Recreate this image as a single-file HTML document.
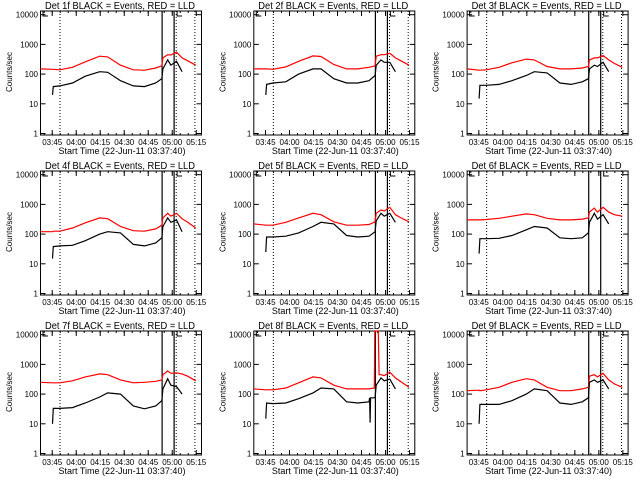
<!DOCTYPE html>
<html><head><meta charset="utf-8"><style>
html,body{margin:0;padding:0;background:#fff;}
svg{display:block;font-family:"Liberation Sans",sans-serif;}
</style></head><body>
<svg id="chart" width="640" height="480" viewBox="0 0 640 480" xmlns="http://www.w3.org/2000/svg"></svg>
<script>
// time in minutes since 03:37:40
const times = [0, 7.5, 8, 12, 20, 28, 37, 42, 50, 58, 65, 72, 75.8, 76.5, 79.5, 81.5, 85, 88.5, 92, 97];
const red1 = [150,145,145,140,170,260,400,380,200,140,135,160,190,350,450,440,550,350,280,200];
const black1 = [null,20,38,40,50,85,120,115,60,40,38,50,70,150,300,200,270,120,null,null];
const red2 = [150,150,150,145,175,270,410,390,210,150,150,170,190,400,450,450,500,350,280,200];
const black2 = [null,20,45,50,55,100,150,150,70,50,50,60,90,200,300,250,250,120,null,null];
const red3 = [150,135,135,140,170,240,320,300,180,150,150,160,180,300,350,350,420,300,230,170];
const black3 = [null,15,42,42,45,60,90,120,110,50,45,55,70,150,200,180,250,120,null,null];
const red4 = [120,120,125,125,160,240,350,330,180,130,125,150,200,350,500,400,500,330,250,160];
const black4 = [null,15,38,40,42,60,100,120,110,45,40,50,75,180,350,250,300,120,null,null];
const red5 = [220,200,200,200,250,350,500,450,260,200,200,210,260,500,650,600,800,450,350,260];
const black5 = [null,25,80,80,85,110,180,250,220,90,80,85,120,280,500,400,500,250,null,null];
const red6 = [300,300,300,310,340,400,480,450,340,300,300,320,350,550,750,550,800,550,450,400];
const black6 = [null,22,70,70,72,90,140,180,160,75,70,75,110,250,500,320,450,220,null,null];
const red7 = [250,240,240,240,280,380,480,450,300,240,250,270,300,450,600,500,520,480,400,280];
const black7 = [null,10,33,33,35,50,80,110,100,40,32,40,60,150,330,200,180,100,null,null];
const red8 = [150,140,140,140,160,240,380,350,200,150,150,150,160,450,450,420,550,350,260,170];
const black8 = [null,15,50,48,50,70,110,160,150,55,50,55,75,200,350,280,320,150,null,null];
const red9 = [130,135,130,140,170,250,330,300,170,130,130,150,170,400,450,380,500,300,220,170];
const black9 = [null,10,45,45,45,60,100,150,130,50,45,55,75,250,300,250,300,150,null,null];
// panel 8 extra features
const spikeTimes8 = [75.3, 75.6, 77.8, 78.3];
const spikeRed8 = [160, 30000, 30000, 450];
const dipTimes8 = [72.4, 72.7, 73.0];
const dipBlack8 = [75, 11, 75];

const panelLabels = ["1f","2f","3f","4f","5f","6f","7f","8f","9f"];
const reds = [red1,red2,red3,red4,red5,red6,red7,red8,red9];
const blacks = [black1,black2,black3,black4,black5,black6,black7,black8,black9];
const yTickValues = [1,10,100,1000,10000];
const yTickLabels = ["1","10","100","1000","10000"];
const xTickMinutes = [7.333, 22.333, 37.333, 52.333, 67.333, 82.333, 97.333];
const xTickLabels = ["03:45","04:00","04:15","04:30","04:45","05:00","05:15"];
const dottedTimes = [12.2, 84.8, 96.5];
const solidTimes = [76, 83.5];

const NS = "http://www.w3.org/2000/svg";
const svg = document.getElementById("chart");
const L = 40.5, R = 201.5, T = 11, B = 135;
function xs(t){ return L + 1.6 * t; }
function ys(v){ return 133.5 - 29.7 * Math.log10(v); }
function mk(tag, attrs, parent){
  const e = document.createElementNS(NS, tag);
  for (const k in attrs) e.setAttribute(k, attrs[k]);
  parent.appendChild(e); return e;
}
function linePath(ts, vs){
  let d = "", pen = false;
  for (let i = 0; i < ts.length; i++){
    const v = vs[i];
    if (v == null){ pen = false; continue; }
    let y = Math.max(T, Math.min(B, ys(v)));
    d += (pen ? "L" : "M") + xs(ts[i]).toFixed(1) + "," + y.toFixed(1);
    pen = true;
  }
  return d;
}

for (let p = 0; p < 9; p++){
  const col = p % 3, row = Math.floor(p / 3);
  const g = mk("g", {transform: "translate(" + (col * 213.3).toFixed(1) + "," + row * 160 + ")"}, svg);
  
  

  const title = mk("text", {x: 120, y: 9, "font-size": 10, "text-anchor": "middle", textLength: 150, lengthAdjust: "spacingAndGlyphs"}, g);
  title.textContent = "Det " + panelLabels[p] + " BLACK = Events, RED = LLD";
  
  

  const box = mk("rect", {x: L, y: T, width: R - L, height: B - T, fill: "none", stroke: "#000", "stroke-width": 1}, g);
  
  

  for (let i = 0; i < yTickValues.length; i++){
    const y = ys(yTickValues[i]);
    mk("line", {x1: L, x2: L + 5, y1: y, y2: y, stroke: "#000"}, g);
    mk("line", {x1: R - 5, x2: R, y1: y, y2: y, stroke: "#000"}, g);
    const tl = mk("text", {x: 38, y: y + 3, "font-size": 8, "text-anchor": "end"}, g);
    tl.textContent = yTickLabels[i];
    
    
  }
  const yt = mk("text", {x: 12, y: 72, "font-size": 8, "text-anchor": "middle", transform: "rotate(-90 12 72)"}, g);
  yt.textContent = "Counts/sec";
  
  

  for (let i = 0; i < xTickMinutes.length; i++){
    const x = xs(xTickMinutes[i]);
    mk("line", {x1: x, x2: x, y1: B, y2: B - 5, stroke: "#000"}, g);
    mk("line", {x1: x, x2: x, y1: T, y2: T + 5, stroke: "#000"}, g);
    const xl = mk("text", {x: x, y: 145, "font-size": 8, "text-anchor": "middle"}, g);
    xl.textContent = xTickLabels[i];
    
    
  }
  for (let m = 2.333; m < 101; m += 5){
    const x = xs(m);
    mk("line", {x1: x, x2: x, y1: B, y2: B - 2, stroke: "#000"}, g);
    mk("line", {x1: x, x2: x, y1: T, y2: T + 2, stroke: "#000"}, g);
  }
  const xt = mk("text", {x: 122, y: 154, "font-size": 9, "text-anchor": "middle"}, g);
  xt.textContent = "Start Time (22-Jun-11 03:37:40)";
  
  

  for (const t of dottedTimes){
    if (p === 5 && t === 84.8) continue;
    const dl = mk("line", {x1: xs(t), x2: xs(t), y1: T, y2: B, stroke: "#000", "stroke-dasharray": "1,2"}, g);
    
    
  }
  for (const t of solidTimes){
    const sl = mk("line", {x1: xs(t), x2: xs(t), y1: T, y2: B, stroke: "#000", "stroke-width": 1.2}, g);
    
    
  }
  const br = mk("path", {d: "M43,11V16H48M" + (xs(83.5) + 3) + ",11V16H" + (xs(83.5) + 8), fill: "none", stroke: "#000"}, g);
  
  

  let rd = linePath(times, reds[p]);
  let bd = linePath(times, blacks[p]);
  if (p === 7){
    rd = linePath(times.slice(0,12), red8.slice(0,12)) + linePath(spikeTimes8, spikeRed8).replace(/^M/, "L") + linePath(times.slice(14), red8.slice(14)).replace(/^M/, "L");
    bd = linePath(times.slice(0,12), black8.slice(0,12)) + linePath(dipTimes8, dipBlack8).replace(/^M/, "L") + linePath(times.slice(12), black8.slice(12)).replace(/^M/, "L");
  }
  const rp = mk("path", {d: rd, fill: "none", stroke: "#ff0000", "stroke-width": 1.2}, g);
  
  
  const bp = mk("path", {d: bd, fill: "none", stroke: "#000", "stroke-width": 1.2}, g);
  
  
}
</script>
</body></html>
